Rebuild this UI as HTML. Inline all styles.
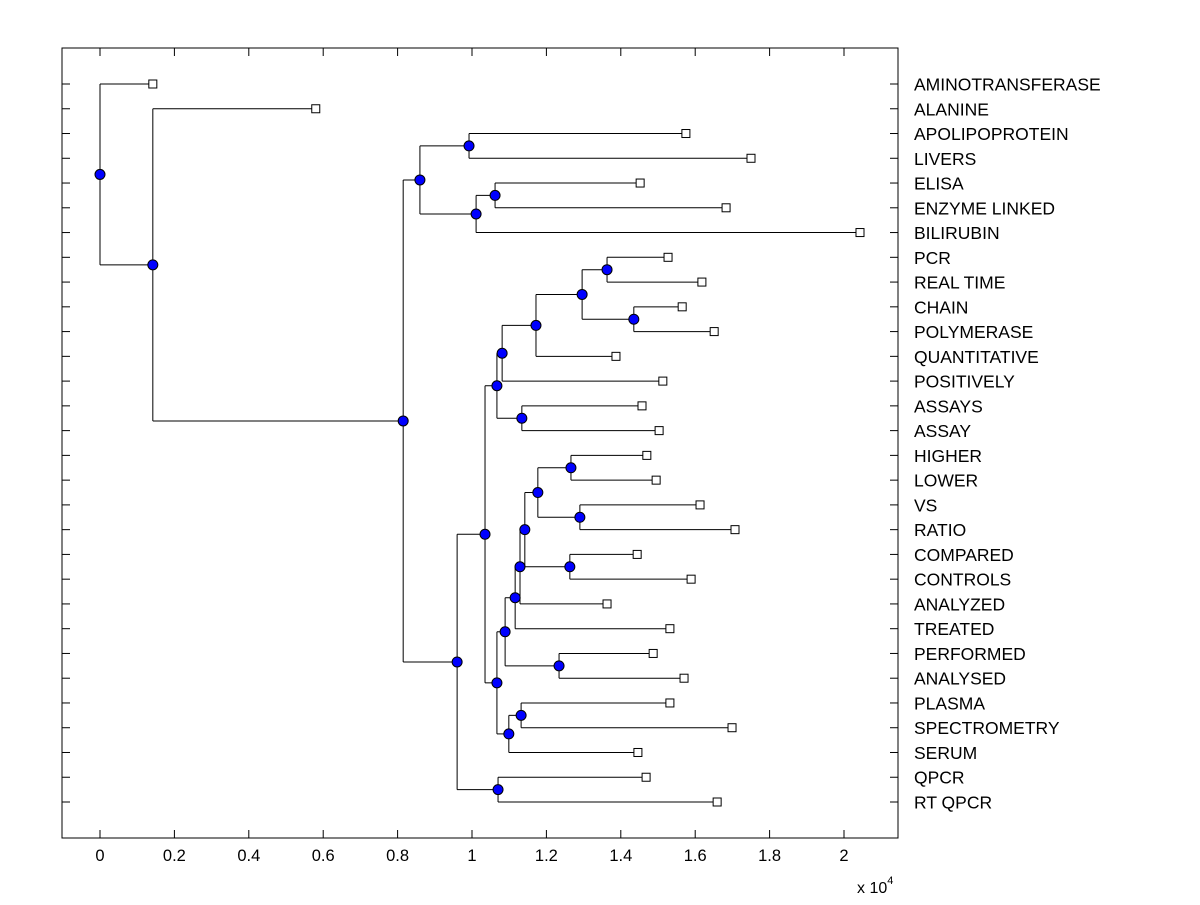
<!DOCTYPE html>
<html><head><meta charset="utf-8"><style>
body{margin:0;background:#fff}
svg text{font-family:"Liberation Sans",Arial,sans-serif}
</style></head><body>
<svg id="chart" width="1200" height="900" xmlns="http://www.w3.org/2000/svg">
<rect x="0" y="0" width="1200" height="900" fill="#fff"/>
<g id="g"></g>
</svg>
<script>
const labels=["AMINOTRANSFERASE","ALANINE","APOLIPOPROTEIN","LIVERS","ELISA","ENZYME LINKED","BILIRUBIN","PCR","REAL TIME","CHAIN","POLYMERASE","QUANTITATIVE","POSITIVELY","ASSAYS","ASSAY","HIGHER","LOWER","VS","RATIO","COMPARED","CONTROLS","ANALYZED","TREATED","PERFORMED","ANALYSED","PLASMA","SPECTROMETRY","SERUM","QPCR","RT QPCR"];
const leafValues=[0.142,0.58,1.575,1.75,1.452,1.683,2.043,1.527,1.618,1.565,1.651,1.387,1.513,1.457,1.503,1.47,1.495,1.613,1.707,1.444,1.589,1.363,1.532,1.487,1.57,1.532,1.699,1.446,1.468,1.659];
const mergeA=[7,9,30,32,33,13,34,15,17,37,19,39,41,42,23,43,25,46,45,36,28,49,2,4,53,52,55,1,0];
const mergeB=[8,10,31,11,12,14,35,16,18,38,20,40,21,22,24,44,26,27,47,48,29,50,3,5,6,54,51,56,57];
const mergeH=[1.363,1.435,1.296,1.172,1.081,1.134,1.067,1.266,1.290,1.177,1.263,1.142,1.129,1.116,1.234,1.089,1.132,1.099,1.067,1.035,1.070,0.960,0.992,1.062,1.011,0.860,0.815,0.142,0];
const xTicks=[0,0.2,0.4,0.6,0.8,1,1.2,1.4,1.6,1.8,2];
const xTickLabels=["0","0.2","0.4","0.6","0.8","1","1.2","1.4","1.6","1.8","2"];

const L=62,R=898,T=48,B=838;
const xs=v=>100+v*372;
const ys=i=>84+i*(802-84)/(labels.length-1);
const g=document.getElementById('g');
const NS='http://www.w3.org/2000/svg';
function mk(tag,attrs){const e=document.createElementNS(NS,tag);for(const k in attrs)e.setAttribute(k,attrs[k]);g.appendChild(e);return e;}

let box=mk('rect',{x:L,y:T,width:R-L,height:B-T,fill:'none',stroke:'#000','stroke-width':1});


xTicks.forEach((t,i)=>{
  const x=xs(t);
  let tk=mk('line',{x1:x,x2:x,y1:B,y2:B-8,stroke:'#000'});
  
  
  mk('line',{x1:x,x2:x,y1:T,y2:T+8,stroke:'#000'});
  let tl=mk('text',{x:x,y:B+23,'text-anchor':'middle','font-size':16.5});
  tl.textContent=xTickLabels[i];
  
  
});
let ex=mk('text',{x:857,y:893,'font-size':16});
ex.innerHTML='x 10<tspan dy="-9" font-size="11">4</tspan>';



labels.forEach((lab,i)=>{
  const y=ys(i);
  mk('line',{x1:L,x2:L+8,y1:y,y2:y,stroke:'#000'});
  mk('line',{x1:R,x2:R-8,y1:y,y2:y,stroke:'#000'});
  let t=mk('text',{x:914,y:y+6.5,'font-size':17.5});
  t.textContent=lab;
  
  
});

const nx=leafValues.slice(), ny=labels.map((_,i)=>ys(i));
mergeA.forEach((a,k)=>{nx.push(mergeH[k]);ny.push((ny[a]+ny[mergeB[k]])/2);});
const lines=[];
mergeA.forEach((a,k)=>{
  const p=labels.length+k, b=mergeB[k], px=xs(nx[p]);
  [a,b].forEach(c=>lines.push([px,ny[c],xs(nx[c]),ny[c]]));
  lines.push([px,ny[a],px,ny[b]]);
});
lines.forEach(l=>{
  let e=mk('line',{x1:l[0],y1:l[1],x2:l[2],y2:l[3],stroke:'#000','stroke-width':1});
  
  
});
labels.forEach((_,i)=>{
  let s=mk('rect',{x:xs(nx[i])-4,y:ny[i]-4,width:8,height:8,fill:'#fff',stroke:'#000'});
  
  
});
mergeA.forEach((_,k)=>{
  const p=labels.length+k;
  let c=mk('circle',{cx:xs(nx[p]),cy:ny[p],r:5,fill:'#0000ff',stroke:'#000','stroke-width':1});
  
  
});
</script>
</body></html>
